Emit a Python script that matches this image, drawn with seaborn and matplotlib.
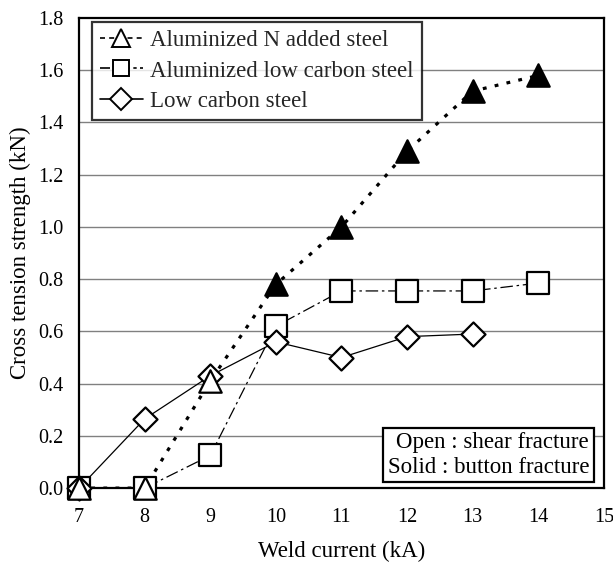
import matplotlib
matplotlib.use("Agg")
import matplotlib.pyplot as plt
import seaborn as sns
import pandas as pd
from matplotlib.lines import Line2D

sns.set_theme(style="white")
plt.rcParams['font.family'] = ['Liberation Serif', 'DejaVu Serif']

# Data
current_n = [7, 8, 9, 10, 11, 12, 13, 14]
strength_n = [0.0, 0.0, 0.41, 0.78, 1.00, 1.29, 1.52, 1.58]
solid_n = [False, False, False, True, True, True, True, True]

current_alc = [7, 8, 9, 10, 11, 12, 13, 14]
strength_alc = [0.0, 0.0, 0.125, 0.62, 0.755, 0.755, 0.755, 0.785]

current_lc = [7, 8, 9, 10, 11, 12, 13]
strength_lc = [0.0, 0.265, 0.43, 0.56, 0.50, 0.58, 0.59]

labels = ["Aluminized N added steel", "Aluminized low carbon steel", "Low carbon steel"]
x_ticks = [7, 8, 9, 10, 11, 12, 13, 14, 15]
y_ticks = [0.0, 0.2, 0.4, 0.6, 0.8, 1.0, 1.2, 1.4, 1.6, 1.8]

df_n = pd.DataFrame({"x": current_n, "y": strength_n, "solid": solid_n})
df_alc = pd.DataFrame({"x": current_alc, "y": strength_alc})
df_lc = pd.DataFrame({"x": current_lc, "y": strength_lc})

fig = plt.figure(figsize=(6.13, 5.63), dpi=100)
ax = fig.add_axes([0.129, 0.133, 0.856, 0.835])

for yt in y_ticks[1:-1]:
    ax.axhline(yt, color="#808080", lw=1.0, zorder=0)

# lines
sns.lineplot(data=df_lc, x="x", y="y", ax=ax, color="black", lw=0.9, linestyle="-", zorder=2)
sns.lineplot(data=df_alc, x="x", y="y", ax=ax, color="black", lw=0.9,
             linestyle=(0, (10, 3, 2, 3)), zorder=2)
sns.lineplot(data=df_n, x="x", y="y", ax=ax, color="black", lw=2.3,
             linestyle=(0, (1.2, 2.6)), zorder=2)

# markers
sns.scatterplot(data=df_lc, x="x", y="y", ax=ax, marker="D", s=150, color="white",
                edgecolor="black", linewidth=1.6, zorder=4, clip_on=False)
sns.scatterplot(data=df_alc, x="x", y="y", ax=ax, marker="s", s=230, color="white",
                edgecolor="black", linewidth=1.6, zorder=3, clip_on=False)
dn_open = df_n[~df_n.solid]
dn_solid = df_n[df_n.solid]
sns.scatterplot(data=dn_open, x="x", y="y", ax=ax, marker="^", s=260, color="white",
                edgecolor="black", linewidth=1.6, zorder=5, clip_on=False)
sns.scatterplot(data=dn_solid, x="x", y="y", ax=ax, marker="^", s=260, color="black",
                edgecolor="black", linewidth=1.6, zorder=5, clip_on=False)

ax.set_xlim(7, 15)
ax.set_ylim(0, 1.8)
ax.set_xticks(x_ticks)
ax.set_yticks(y_ticks)
ax.set_yticklabels([f"{v:.1f}" for v in y_ticks])
ax.tick_params(direction="in", length=6, width=1.2, labelsize=14.5, colors="black")
ax.tick_params(axis="x", pad=14)
ax.tick_params(axis="y", pad=11)
for sp in ax.spines.values():
    sp.set_color("black")
    sp.set_linewidth(1.6)

ax.set_xlabel("Weld current (kA)", fontsize=16.5, labelpad=10, color="black")
ax.set_ylabel("Cross tension strength (kN)", fontsize=16.5, labelpad=5, color="black")

handles = [
    Line2D([], [], color="black", lw=1.2, linestyle=(0, (3, 2.5)), marker="^", ms=13,
           mfc="white", mec="black", mew=1.4),
    Line2D([], [], color="black", lw=1.2, linestyle=(0, (6, 2, 2, 2)), marker="s", ms=12,
           mfc="white", mec="black", mew=1.4),
    Line2D([], [], color="black", lw=1.2, linestyle="-", marker="D", ms=11,
           mfc="white", mec="black", mew=1.4),
]
leg = ax.legend(handles, labels, loc="upper left", bbox_to_anchor=(0.024, 0.992),
                fontsize=16.5, frameon=True, fancybox=False, edgecolor="black",
                handlelength=1.9, handletextpad=0.3, borderpad=0.35, labelspacing=0.42,
                borderaxespad=0.0)
leg.get_frame().set_linewidth(1.6)

ax.text(0.972, 0.022, "Open : shear fracture\nSolid : button fracture", transform=ax.transAxes,
        ha="right", va="bottom", fontsize=16.5, linespacing=1.22, color="black",
        bbox=dict(boxstyle="square,pad=0.2", facecolor="white", edgecolor="black", linewidth=1.6),
        zorder=6)

fig.savefig("out.png", dpi=100)
